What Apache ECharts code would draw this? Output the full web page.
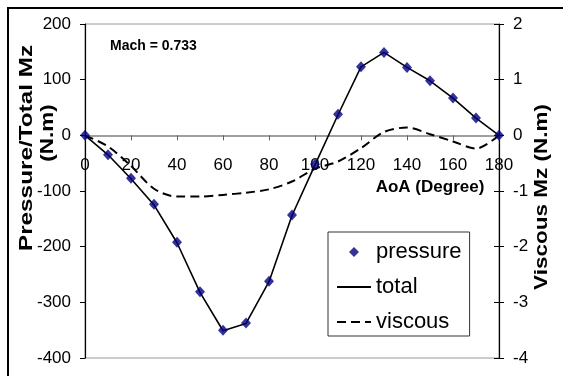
<!DOCTYPE html>
<html>
<head>
<meta charset="utf-8">
<script src="https://cdn.jsdelivr.net/npm/echarts@6/dist/echarts.min.js"></script>
<style>
  html, body { margin: 0; padding: 0; background: #fff; }
  #chart { width: 563px; height: 376px; }
</style>
</head>
<body>
<div id="chart"></div>
<script>
// Angle of attack (degrees)
const aoa = [0, 10, 20, 30, 40, 50, 60, 70, 80, 90, 100, 110, 120, 130, 140, 150, 160, 170, 180];
// Pressure moment Mz (N.m), left axis
const pressure = [0, -35, -77, -124, -192, -281, -350, -337, -262, -143, -52, 38, 123, 149, 122, 98, 67, 31, 0];
// Total moment Mz (N.m), left axis
const total = [0, -35, -78, -125, -193, -282, -351, -338, -263, -144, -53, 37, 123, 149, 122, 98, 67, 31, 0];
// Viscous moment Mz (N.m), right axis
const viscous = [0, -0.2, -0.55, -0.96, -1.1, -1.1, -1.07, -1.03, -0.97, -0.83, -0.6, -0.47, -0.23, 0.06, 0.14, 0.02, -0.11, -0.24, 0];

const leftTicks = { min: -400, max: 200, step: 100 };
const rightTicks = { min: -4, max: 2, step: 1 };
const xTicks = { min: 0, max: 180, step: 20 };

const FONT = '"Liberation Sans", Arial, sans-serif';
const pairs = (ys) => aoa.map((x, i) => [x, ys[i]]);

// plot box
const GRID = { left: 85, right: 64, top: 24, bottom: 18 };
const plotHeight = 376 - GRID.top - GRID.bottom;
// the angle axis crosses the left axis at 0: shift it up from the bottom edge
const zeroShift = plotHeight * (0 - leftTicks.min) / (leftTicks.max - leftTicks.min);

const chart = echarts.init(document.getElementById('chart'), null, { renderer: 'canvas' });

// legend entries for the two lines show only the stroke, no marker
const hiddenMarker = { color: 'rgba(0,0,0,0)', opacity: 0, borderWidth: 0 };

chart.setOption({
  animation: false,
  backgroundColor: '#fff',
  textStyle: { fontFamily: FONT, color: '#000' },
  grid: {
    left: GRID.left, right: GRID.right, top: GRID.top, bottom: GRID.bottom,
    outerBoundsMode: 'none', containLabel: false,
    show: true, borderColor: '#9a9a9a', borderWidth: 1, backgroundColor: 'transparent'
  },
  xAxis: {
    type: 'value', position: 'bottom', offset: -zeroShift,
    min: xTicks.min, max: xTicks.max, interval: xTicks.step,
    axisLine: { onZero: false, lineStyle: { color: '#808080', width: 1.5 } },
    axisTick: { show: true, length: 5, lineStyle: { color: '#606060' } },
    axisLabel: { margin: 21, fontSize: 17, color: '#000', fontFamily: FONT },
    splitLine: { show: false }
  },
  yAxis: [
    {
      type: 'value', position: 'left',
      min: leftTicks.min, max: leftTicks.max, interval: leftTicks.step,
      axisLine: { show: true, onZero: false, lineStyle: { color: '#000', width: 1.2 } },
      axisTick: { show: true, length: 5, lineStyle: { color: '#000' } },
      axisLabel: { margin: 14, fontSize: 17, color: '#000', fontFamily: FONT },
      splitLine: { show: false }
    },
    {
      type: 'value', position: 'right',
      min: rightTicks.min, max: rightTicks.max, interval: rightTicks.step,
      axisLine: { show: true, onZero: false, lineStyle: { color: '#000', width: 1.2 } },
      axisTick: { show: true, length: 5, lineStyle: { color: '#000' } },
      axisLabel: { margin: 14, fontSize: 17, color: '#000', fontFamily: FONT },
      splitLine: { show: false }
    },
    {
      // inner half of the crossing ticks on the right axis
      type: 'value', position: 'right',
      min: rightTicks.min, max: rightTicks.max, interval: rightTicks.step,
      axisLine: { show: false, onZero: false },
      axisTick: { show: true, inside: true, length: 5, lineStyle: { color: '#000' } },
      axisLabel: { show: false },
      splitLine: { show: false }
    }
  ],
  legend: {
    orient: 'vertical',
    left: 328, top: 232,
    padding: [9, 8, 3, 8],
    itemWidth: 34, itemHeight: 10, itemGap: 13,
    symbolKeepAspect: true,
    backgroundColor: '#fff',
    borderColor: '#333', borderWidth: 1,
    textStyle: { fontSize: 22, color: '#000', fontFamily: FONT },
    data: [
      { name: 'pressure', icon: 'path://M5,0L10,5L5,10L0,5Z' },
      { name: 'total', itemStyle: hiddenMarker },
      { name: 'viscous', itemStyle: hiddenMarker }
    ]
  },
  series: [
    {
      name: 'total', type: 'line', yAxisIndex: 0,
      data: pairs(total),
      symbol: 'none', z: 2,
      lineStyle: { color: '#000', width: 1.6 },
      itemStyle: { color: '#000' }
    },
    {
      name: 'viscous', type: 'line', yAxisIndex: 1,
      data: pairs(viscous),
      symbol: 'none', smooth: 0.3, z: 2,
      lineStyle: { color: '#000', width: 2, type: [9, 5] },
      itemStyle: { color: '#000' }
    },
    {
      name: 'pressure', type: 'scatter', yAxisIndex: 0,
      data: pairs(pressure),
      symbol: 'diamond', symbolSize: [10, 11], z: 3,
      itemStyle: { color: '#000080' }
    }
  ],
  graphic: [
    {
      type: 'rect', silent: true, z: 100,
      shape: { x: 8, y: 8, width: 580, height: 400 },
      style: { fill: 'none', stroke: '#000', lineWidth: 2 }
    },
    {
      type: 'text', x: 110, y: 46, z: 100,
      style: { text: 'Mach = 0.733', font: 'bold 14px ' + FONT, fill: '#000', align: 'left', verticalAlign: 'middle' }
    },
    {
      type: 'text', x: 27, y: 148, rotation: Math.PI / 2, scaleX: 1.35, z: 100,
      style: { text: 'Pressure/Total Mz', font: 'bold 18px ' + FONT, fill: '#000', align: 'center', verticalAlign: 'middle' }
    },
    {
      type: 'text', x: 48, y: 133, rotation: Math.PI / 2, scaleX: 1.25, z: 100,
      style: { text: '(N.m)', font: 'bold 18px ' + FONT, fill: '#000', align: 'center', verticalAlign: 'middle' }
    },
    {
      type: 'text', x: 542, y: 197, rotation: Math.PI / 2, scaleX: 1.25, z: 100,
      style: { text: 'Viscous Mz (N.m)', font: 'bold 18px ' + FONT, fill: '#000', align: 'center', verticalAlign: 'middle' }
    },
    {
      type: 'text', x: 430, y: 187, z: 100,
      style: { text: 'AoA (Degree)', font: 'bold 17px ' + FONT, fill: '#000', align: 'center', verticalAlign: 'middle' }
    }
  ]
});
</script>
</body>
</html>
